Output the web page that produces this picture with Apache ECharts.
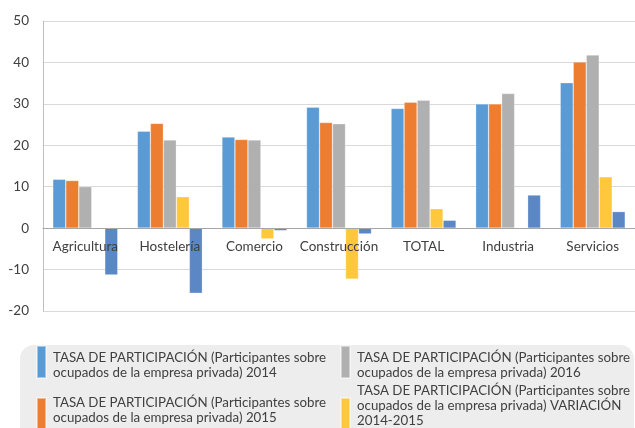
<!DOCTYPE html>
<html>
<head>
<meta charset="utf-8">
<script src="https://cdn.jsdelivr.net/npm/echarts@6/dist/echarts.min.js"></script>
<style>
  html, body { margin: 0; padding: 0; background: #fff; }
  #chartmain { width: 635px; height: 428px; }
</style>
</head>
<body>
<div id="chartmain"></div>
<script>
var categories = ["Agricultura", "Hostelería", "Comercio", "Construcción", "TOTAL", "Industria", "Servicios"];

var serie2014 = [11.8, 23.4, 22.0, 29.2, 28.9, 30.0, 35.1];
var serie2015 = [11.5, 25.3, 21.4, 25.5, 30.4, 30.0, 40.1];
var serie2016 = [10.0, 21.3, 21.3, 25.2, 30.9, 32.5, 41.8];
var variacion1415 = [-0.2, 7.6, -2.6, -12.3, 4.7, 0, 12.4];
var variacion1516 = [-11.3, -15.7, -0.6, -1.4, 1.9, 8.0, 4.0];

var yTicks = { min: -20, max: 50, interval: 10 };

var names = [
  "TASA DE PARTICIPACIÓN (Participantes sobre ocupados de la empresa privada) 2014",
  "TASA DE PARTICIPACIÓN (Participantes sobre ocupados de la empresa privada) 2015",
  "TASA DE PARTICIPACIÓN (Participantes sobre ocupados de la empresa privada) 2016",
  "TASA DE PARTICIPACIÓN (Participantes sobre ocupados de la empresa privada) VARIACIÓN 2014-2015",
  "TASA DE PARTICIPACIÓN (Participantes sobre ocupados de la empresa privada) VARIACIÓN 2015-2016"
];
var colors = ["#5B9BD5", "#ED7D31", "#B0B0B0", "#FFC83C", "#5B87C5"];
var values = [serie2014, serie2015, serie2016, variacion1415, variacion1516];

// alto del area de trazado y posicion del cero
var gridTop = 21, gridBottom = 117, chartH = 428;
var plotH = chartH - gridTop - gridBottom;
var zeroShift = plotH * (0 - yTicks.min) / (yTicks.max - yTicks.min);

var iconH = 32, lineH = 15;

function splitName(name) {
  return name
    .replace(" ocupados", "\nocupados")
    .replace(" 2014-2015", "\n2014-2015")
    .split("\n");
}

// salto de linea como en la leyenda original; una linea vacia arriba o abajo
// sirve para subir o bajar el texto respecto al icono
function wrapper(gapPos) {
  return function(name) {
    var txt = splitName(name).map(function(l) { return "{t|" + l + "}"; }).join("\n");
    if (gapPos === "top") return "{gap| }\n" + txt;
    return txt + "\n{gap| }";
  };
}

function legendAt(idx, left, iconTop, gapPos, gapH) {
  // la leyenda se coloca por su caja total; corregir para que el icono quede en iconTop
  var textH = splitName(names[idx]).length * lineH + gapH;
  var over = Math.max(0, textH / 2 - iconH / 2);
  return {
    data: [names[idx]],
    left: left,
    top: iconTop - over,
    padding: 0,
    icon: "rect",
    itemWidth: 9,
    itemHeight: iconH,
    itemGap: 0,
    selectedMode: false,
    formatter: wrapper(gapPos),
    textStyle: {
      fontFamily: "Lato",
      fontSize: 13.3,
      color: "#404040",
      rich: {
        t: { fontFamily: "Lato", fontSize: 13.3, color: "#404040", lineHeight: lineH, padding: [0, 0, 0, 2] },
        gap: { fontSize: 2, lineHeight: gapH, height: gapH }
      }
    }
  };
}

var series = [];
for (var i = 0; i < values.length; i++) {
  series.push({
    name: names[i],
    type: "bar",
    data: values[i],
    barWidth: 13,
    barGap: "0%",
    itemStyle: { color: colors[i], borderColor: "rgba(255,255,255,0.45)", borderWidth: 0.6 }
  });
}

var option = {
  animation: false,
  color: colors,
  grid: { left: 43, right: -4, top: gridTop, bottom: gridBottom },
  graphic: [{
    type: "rect",
    left: 20,
    top: 345,
    z: -10,
    shape: { width: 614, height: 130, r: 14 },
    style: { fill: "#EDEDED" }
  }],
  legend: [
    legendAt(0, 36, 346, "top", 6),
    legendAt(1, 36, 399, "bottom", 7),
    legendAt(2, 340, 346, "top", 6),
    legendAt(3, 340, 399, "bottom", 16)
  ],
  xAxis: {
    type: "category",
    data: categories,
    offset: -zeroShift,
    z: 10,
    axisTick: { show: false },
    axisLine: { onZero: false, lineStyle: { color: "#A6A6A6", width: 1 } },
    axisLabel: { interval: 0, fontFamily: "Lato", fontSize: 13.5, color: "#404040", margin: 11 }
  },
  yAxis: {
    type: "value",
    min: yTicks.min,
    max: yTicks.max,
    interval: yTicks.interval,
    axisLine: { show: true, lineStyle: { color: "#BFBFBF" } },
    axisTick: { show: false },
    splitLine: { lineStyle: { color: "#D9D9D9", width: 1 } },
    axisLabel: { fontFamily: "Lato", fontSize: 13.5, color: "#404040", margin: 14 }
  },
  series: series
};

var myChart = echarts.init(document.getElementById("chartmain"));
myChart.setOption(option);
</script>
</body>
</html>
